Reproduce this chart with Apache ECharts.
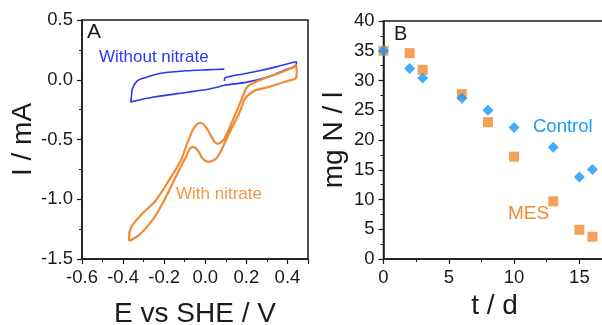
<!DOCTYPE html>
<html>
<head>
<meta charset="utf-8">
<script src="https://cdn.jsdelivr.net/npm/echarts@6/dist/echarts.min.js"></script>
<style>html,body{margin:0;padding:0;background:#fff;}#c{width:602px;height:325px;}</style>
</head>
<body>
<div id="c"></div>
<script>
// Panel A: cyclic voltammograms [E (V vs SHE), I (mA)]
var withoutNitrate = [
  [0.093,-0.010],[0.096,0.015],[0.117,0.027],[0.190,0.050],[0.263,0.075],[0.350,0.110],[0.426,0.144],[0.444,0.150],
  [0.440,0.115],[0.393,0.085],[0.312,0.027],[0.198,-0.022],[0.100,-0.044],[0.052,-0.065],[0.020,-0.078],
  [-0.094,-0.106],[-0.257,-0.147],[-0.363,-0.185],
  [-0.360,-0.150],[-0.355,-0.078],[-0.330,-0.008],[-0.290,0.019],[-0.208,0.056],[-0.094,0.075],[0.003,0.083],[0.093,0.089]
];
var withNitrate = [
  [-0.371,-1.350],[-0.368,-1.270],[-0.355,-1.217],[-0.306,-1.120],[-0.240,-1.008],[-0.176,-0.840],[-0.119,-0.675],
  [-0.090,-0.540],[-0.062,-0.425],[-0.045,-0.380],[-0.025,-0.360],[0.003,-0.397],[0.036,-0.494],[0.055,-0.535],
  [0.075,-0.525],[0.093,-0.494],[0.133,-0.342],[0.174,-0.175],[0.200,-0.070],[0.223,-0.036],[0.280,0.006],
  [0.350,0.050],[0.426,0.103],[0.440,0.125],[0.445,0.060],[0.440,0.010],[0.400,-0.010],[0.300,-0.064],
  [0.250,-0.085],[0.231,-0.100],[0.206,-0.133],[0.190,-0.170],[0.165,-0.280],[0.130,-0.400],[0.100,-0.508],
  [0.075,-0.600],[0.052,-0.660],[0.016,-0.688],[-0.013,-0.660],[-0.037,-0.590],[-0.062,-0.562],[-0.080,-0.590],
  [-0.094,-0.647],[-0.111,-0.700],[-0.160,-0.870],[-0.208,-1.036],[-0.257,-1.175],[-0.322,-1.300],[-0.371,-1.350]
];
// Panel B: nitrate concentration (mg N / l) vs time (d)
var days = [0, 2, 3, 6, 8, 10, 13, 15, 16];
var control = [35.0, 32.0, 30.4, 27.0, 25.0, 22.1, 18.8, 13.8, 15.05];
var mes = [35.0, 34.6, 31.8, 27.7, 23.0, 17.2, 9.7, 4.9, 3.75];
var ticksAx = [-0.6, -0.4, -0.2, 0.0, 0.2, 0.4];

function pairs(xs, ys){ return xs.map(function(x,i){ return [x, ys[i]]; }); }

var axCol = '#1a1a1a';
var FONT = 'Liberation Sans, Arial, sans-serif';
function axisBase(){
  return {
    axisLine:{show:true, onZero:false, lineStyle:{color:axCol, width:1.5}},
    axisTick:{show:true, inside:false, length:5, lineStyle:{color:axCol, width:1.2}},
    minorTick:{show:true, splitNumber:2, length:3, lineStyle:{color:axCol, width:1}},
    splitLine:{show:false},
    axisLabel:{color:axCol, fontSize:18.5, fontFamily:FONT, margin:9},
    nameTextStyle:{color:axCol, fontSize:28, fontFamily:FONT},
    nameLocation:'middle'
  };
}
function merge(a,b){ for (var k in b) a[k]=b[k]; return a; }

var chart = echarts.init(document.getElementById('c'), null, {renderer:'canvas'});
chart.setOption({
  animation:false,
  backgroundColor:'#fff',
  grid:[
    {left:82, top:20, width:226, height:239, show:true, borderColor:axCol, borderWidth:1.5, containLabel:false, outerBoundsMode:'none'},
    {left:383.5, top:21, width:222, height:238, show:true, borderColor:axCol, borderWidth:1.5, containLabel:false, outerBoundsMode:'none'}
  ],
  xAxis:[
    merge(axisBase(), {type:'value', gridIndex:0, min:-0.6, max:0.5, interval:0.2, name:'E vs SHE / V', nameGap:41,
      axisLabel:merge(axisBase().axisLabel, {showMaxLabel:false, formatter:function(v){ return ticksAx.some(function(t){return Math.abs(t-v)<1e-6;}) ? v.toFixed(1) : ''; }})}),
    merge(axisBase(), {type:'value', gridIndex:1, min:0, max:17, interval:5, name:'t / d', nameGap:29,
      axisLabel:merge(axisBase().axisLabel, {showMaxLabel:false})})
  ],
  yAxis:[
    merge(axisBase(), {type:'value', gridIndex:0, min:-1.5, max:0.5, interval:0.5, name:'I / mA', nameGap:37,
      axisLabel:merge(axisBase().axisLabel, {formatter:function(v){ return v.toFixed(1); }})}),
    merge(axisBase(), {type:'value', gridIndex:1, min:0, max:40, interval:5, name:'mg N / l', nameGap:35})
  ],
  series:[
    {type:'line', xAxisIndex:0, yAxisIndex:0, data:withoutNitrate, showSymbol:false, smooth:0.25,
      lineStyle:{color:'#2B38F2', width:1.6}, clip:true},
    {type:'line', xAxisIndex:0, yAxisIndex:0, data:withNitrate, showSymbol:false, smooth:0.25,
      lineStyle:{color:'#F28A33', width:2.2}, clip:true},
    {type:'scatter', xAxisIndex:1, yAxisIndex:1, data:pairs(days, mes), symbol:'rect', symbolSize:10,
      itemStyle:{color:'#F08A30'}, clip:true},
    {type:'scatter', xAxisIndex:1, yAxisIndex:1, data:pairs(days, control), symbol:'diamond', symbolSize:[11,11],
      itemStyle:{color:'#1299FA'}, clip:true}
  ],
  graphic:[
    {type:'text', left:87, top:22, style:{text:'A', fontSize:21, fontFamily:FONT, fill:axCol}},
    {type:'text', left:394, top:24, style:{text:'B', fontSize:20, fontFamily:FONT, fill:axCol}},
    {type:'text', left:99, top:49, style:{text:'Without nitrate', fontSize:17, fontFamily:FONT, fill:'#2B38F2'}},
    {type:'text', left:176, top:186, style:{text:'With nitrate', fontSize:17, fontFamily:FONT, fill:'#F39645'}},
    {type:'text', left:533, top:117, style:{text:'Control', fontSize:18.5, fontFamily:FONT, fill:'#1C9BF7'}},
    {type:'text', left:508, top:204, style:{text:'MES', fontSize:19, fontFamily:FONT, fill:'#F08A30'}}
  ]
});
</script>
</body>
</html>
